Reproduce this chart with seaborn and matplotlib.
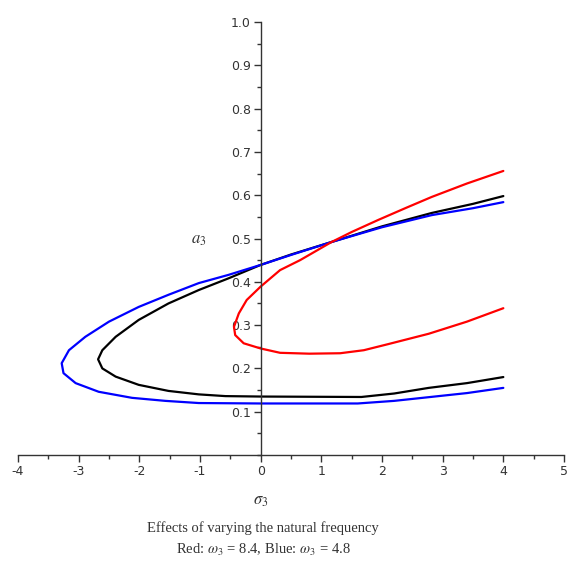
import matplotlib
matplotlib.use("Agg")
import matplotlib.pyplot as plt
import seaborn as sns
import pandas as pd
from matplotlib.ticker import MultipleLocator, FixedLocator

# ---- data (traversed upper branch -> nose -> lower branch)
red_sigma = [4.0, 3.4, 2.82, 2.4, 1.94, 1.5, 1.17, 0.65, 0.32, 0.0, -0.23, -0.36, -0.44,
             -0.42, -0.28, 0.0, 0.32, 0.8, 1.31, 1.7, 2.1, 2.77, 3.4, 4.0]
red_a = [0.656, 0.627, 0.596, 0.571, 0.543, 0.515, 0.492, 0.45, 0.427, 0.389, 0.358, 0.327, 0.296,
         0.277, 0.258, 0.246, 0.236, 0.234, 0.235, 0.242, 0.256, 0.28, 0.308, 0.339]

black_sigma = [4.0, 3.5, 2.82, 2.0, 1.17, 0.5, 0.0, -0.53, -1.02, -1.52, -2.01, -2.39, -2.61, -2.68,
               -2.61, -2.39, -2.01, -1.52, -1.02, -0.58, 0.0, 1.66, 2.2, 2.77, 3.4, 4.0]
black_a = [0.598, 0.58, 0.559, 0.528, 0.492, 0.463, 0.439, 0.408, 0.381, 0.35, 0.312, 0.273, 0.242, 0.221,
           0.2, 0.181, 0.162, 0.148, 0.14, 0.136, 0.135, 0.134, 0.142, 0.155, 0.166, 0.18]

blue_sigma = [4.0, 3.5, 2.82, 2.0, 1.17, 0.5, 0.0, -0.53, -1.02, -1.52, -2.01, -2.5, -2.89, -3.16, -3.28,
              -3.25, -3.05, -2.67, -2.12, -1.57, -1.02, 0.0, 1.6, 2.2, 2.8, 3.4, 4.0]
blue_a = [0.584, 0.57, 0.554, 0.526, 0.492, 0.462, 0.439, 0.416, 0.397, 0.37, 0.342, 0.308, 0.273, 0.242, 0.212,
          0.189, 0.166, 0.146, 0.132, 0.125, 0.12, 0.119, 0.119, 0.125, 0.134, 0.143, 0.155]

x_ticks = [-4, -3, -2, -1, 0, 1, 2, 3, 4, 5]
y_ticks = [0.1, 0.2, 0.3, 0.4, 0.5, 0.6, 0.7, 0.8, 0.9, 1.0]
y_tick_labels = ["0.1", "0.2", "0.3", "0.4", "0.5", "0.6", "0.7", "0.8", "0.9", "1.0"]
caption1 = "Effects of varying the natural frequency"
caption2 = r"Red: $\omega_3$ = 8.4, Blue: $\omega_3$ = 4.8"

sns.set_style("ticks")
plt.rcParams["axes.unicode_minus"] = False
plt.rcParams["mathtext.fontset"] = "stix"
plt.rcParams["font.family"] = ["DejaVu Sans"]

fig = plt.figure(figsize=(5.69, 5.67), dpi=100)
ax = fig.add_axes([18 / 569, 1 - 455 / 567, (564 - 18) / 569, (455 - 22) / 567])

curves = [("black", black_sigma, black_a), ("blue", blue_sigma, blue_a), ("red", red_sigma, red_a)]
for color, s, a in curves:
    df = pd.DataFrame({"sigma": s, "a": a})
    sns.lineplot(data=df, x="sigma", y="a", sort=False, estimator=None, color=color,
                 linewidth=1.6, ax=ax, legend=False)

ax.set_xlim(-4, 5)
ax.set_ylim(0, 1.0)
ax.spines["left"].set_position(("data", 0))
ax.spines["bottom"].set_position(("data", 0))
ax.spines["top"].set_visible(False)
ax.spines["right"].set_visible(False)
for sp in ("left", "bottom"):
    ax.spines[sp].set_color("#333333")
    ax.spines[sp].set_linewidth(1.0)

ax.xaxis.set_major_locator(FixedLocator(x_ticks))
ax.set_xticklabels([str(v) for v in x_ticks])
ax.xaxis.set_minor_locator(MultipleLocator(0.5))
ax.yaxis.set_major_locator(FixedLocator(y_ticks))
ax.set_yticklabels(y_tick_labels)
ax.yaxis.set_minor_locator(MultipleLocator(0.05))
ax.tick_params(which="major", length=5, width=1, color="#333333", labelsize=9,
               labelcolor="#333333", direction="out", pad=2)
ax.tick_params(which="minor", length=3, width=1, color="#333333", direction="out")
ax.set_xlabel("")
ax.set_ylabel("")

ax.text(-1.02, 0.5, r"$a_3$", fontsize=12, ha="center", va="center", color="#333333")
ax.text(0.0, -0.105, r"$\sigma_3$", fontsize=12, ha="center", va="center", color="#333333")
fig.text(263 / 569, 1 - 528 / 567, caption1, fontsize=10.5, ha="center", va="center",
         family=["Liberation Serif"], color="#333333")
fig.text(263 / 569, 1 - 550 / 567, caption2, fontsize=10.5, ha="center", va="center",
         family=["Liberation Serif"], color="#333333")

fig.savefig("out.png", dpi=100)
